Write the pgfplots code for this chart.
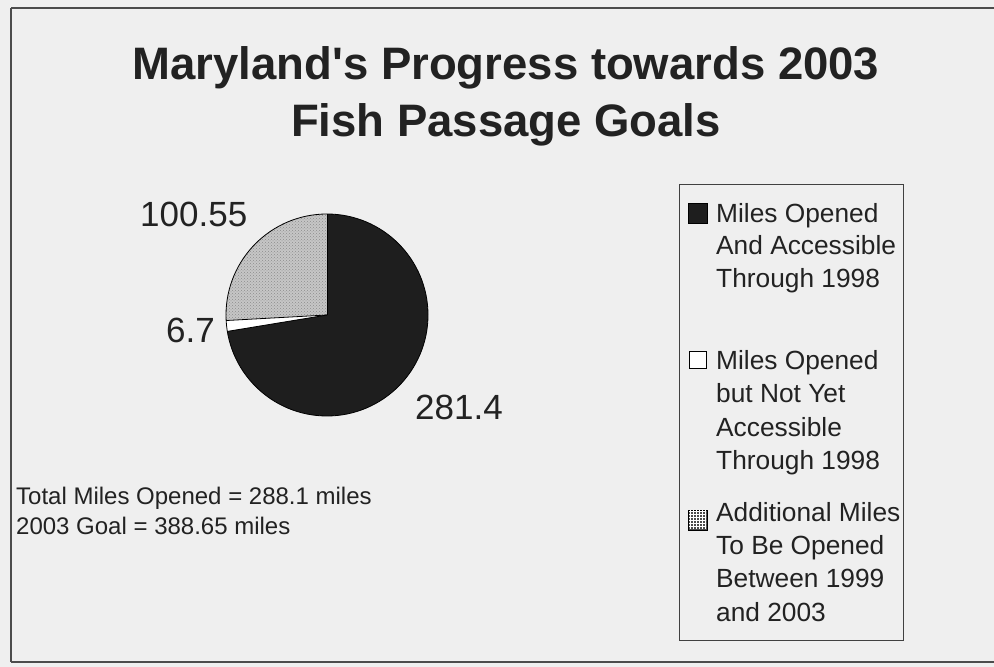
\documentclass[border=0pt]{standalone}
\usepackage{fontspec}
\setmainfont{Liberation Sans}[Ligatures=TeXOff]
\usepackage{pgfplots}
\usepackage{pgfplotstable}
\pgfplotsset{compat=1.18}
\usetikzlibrary{patterns}
\definecolor{bg}{HTML}{EFEFEF}
\definecolor{txt}{HTML}{222222}
\definecolor{dark}{HTML}{1E1E1E}
\definecolor{lgray}{HTML}{C6C6C6}
\pgfplotstableread{
slice miles
1 100.55
2 6.7
3 281.4
}\piedata
\tikzset{lg/.style={anchor=base west, inner sep=0, txt, font=\fontsize{26.3}{30}\selectfont}}
\begin{document}%
\begin{tikzpicture}
\pgfplotstablegetelem{0}{miles}\of\piedata \let\vA\pgfplotsretval
\pgfplotstablegetelem{1}{miles}\of\piedata \let\vB\pgfplotsretval
\pgfplotstablegetelem{2}{miles}\of\piedata \let\vC\pgfplotsretval
\pgfmathsetmacro\total{\vA+\vB+\vC}
\pgfmathsetmacro\aA{90}
\pgfmathsetmacro\aB{90+360*(\vA/\total)}
\pgfmathsetmacro\aC{\aB+360*(\vB/\total)}
\pgfmathsetmacro\aD{450}
\fill[bg] (0,0) rectangle (994pt,667pt);
\useasboundingbox (0,0) rectangle (994pt,667pt);
\begin{axis}[at={(0,0)}, anchor=south west, scale only axis,
  width=994pt, height=667pt, xmin=0, xmax=994, ymin=0, ymax=667,
  hide axis, clip=false]
% frame
\draw[black!70, line width=1.2pt] (axis cs:11,659) -- (axis cs:994,659);
\draw[black!70, line width=1.2pt] (axis cs:11,659) -- (axis cs:11,5);
\draw[black!70, line width=1.2pt] (axis cs:11,5) -- (axis cs:994,5);
% title
\node[anchor=base, inner sep=0, txt, font=\fontsize{45.5}{52}\selectfont\bfseries] at (axis cs:506,587) {Maryland's Progress towards 2003};
\node[anchor=base, inner sep=0, txt, font=\fontsize{45.5}{52}\selectfont\bfseries] at (axis cs:506,530) {Fish Passage Goals};
% pie
\fill[lgray] (axis cs:327,352) -- ++(\aA:101pt) arc[start angle=\aA, end angle=\aB, radius=101pt] -- cycle;
\fill[pattern=crosshatch dots, pattern color=black!45] (axis cs:327,352) -- ++(\aA:101pt) arc[start angle=\aA, end angle=\aB, radius=101pt] -- cycle;
\fill[white] (axis cs:327,352) -- ++(\aB:101pt) arc[start angle=\aB, end angle=\aC, radius=101pt] -- cycle;
\fill[dark] (axis cs:327,352) -- ++(\aC:101pt) arc[start angle=\aC, end angle=\aD, radius=101pt] -- cycle;
\draw[black, line width=0.8pt] (axis cs:327,352) -- ++(\aA:101pt);
\draw[black, line width=0.8pt] (axis cs:327,352) -- ++(\aB:101pt);
\draw[black, line width=0.8pt] (axis cs:327,352) -- ++(\aC:101pt);
\draw[black, line width=0.8pt] (axis cs:327,352) circle[radius=101pt];
% pie labels
\node[anchor=base west, inner sep=0, txt, font=\fontsize{35}{40}\selectfont] at (axis cs:140,440) {100.55};
\node[anchor=base west, inner sep=0, txt, font=\fontsize{35}{40}\selectfont] at (axis cs:166,324) {6.7};
\node[anchor=base west, inner sep=0, txt, font=\fontsize{35}{40}\selectfont] at (axis cs:415,247) {281.4};
% notes
\node[anchor=base west, inner sep=0, txt, font=\fontsize{24}{28}\selectfont] at (axis cs:16,162) {Total Miles Opened = 288.1 miles};
\node[anchor=base west, inner sep=0, txt, font=\fontsize{24}{28}\selectfont] at (axis cs:16,132) {2003 Goal = 388.65 miles};
% legend
\draw[black!75, line width=1pt] (axis cs:679,26) rectangle (axis cs:903,482);
\draw[black, line width=0.6pt, fill=dark] (axis cs:688,444) rectangle (axis cs:707,464);
\draw[black, line width=1pt, fill=white] (axis cs:689,298) rectangle (axis cs:706,315);
\draw[black, line width=0.6pt, fill=black!70] (axis cs:688,137) rectangle (axis cs:707,157);
\fill[pattern=grid, pattern color=white] (axis cs:689,138) rectangle (axis cs:706,156);
\node[lg] at (axis cs:716,444) {Miles Opened};
\node[lg] at (axis cs:716,412) {And Accessible};
\node[lg] at (axis cs:716,379) {Through 1998};
\node[lg] at (axis cs:716,297) {Miles Opened};
\node[lg] at (axis cs:716,264) {but Not Yet};
\node[lg] at (axis cs:716,230) {Accessible};
\node[lg] at (axis cs:716,197) {Through 1998};
\node[lg] at (axis cs:716,145) {Additional Miles};
\node[lg] at (axis cs:716,112) {To Be Opened};
\node[lg] at (axis cs:716,79) {Between 1999};
\node[lg] at (axis cs:716,45) {and 2003};
\end{axis}
\end{tikzpicture}%
\end{document}
